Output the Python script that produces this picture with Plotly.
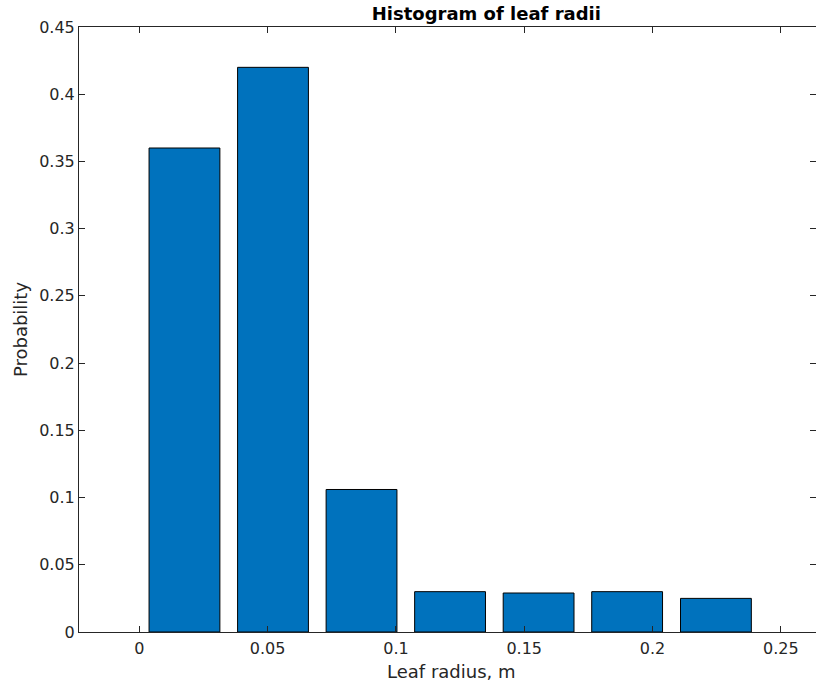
import plotly.graph_objects as go

bin_centers = [0.0176, 0.0521, 0.0866, 0.1211, 0.1556, 0.1901, 0.2247]
probabilities = [0.36, 0.42, 0.106, 0.030, 0.029, 0.030, 0.025]
bar_width = 0.0276
x_ticks = [0, 0.05, 0.1, 0.15, 0.2, 0.25]
x_ticklabels = ["0", "0.05", "0.1", "0.15", "0.2", "0.25"]
y_ticks = [0, 0.05, 0.1, 0.15, 0.2, 0.25, 0.3, 0.35, 0.4, 0.45]
y_ticklabels = ["0", "0.05", "0.1", "0.15", "0.2", "0.25", "0.3", "0.35", "0.4", "0.45"]

axc = "#262626"
font = "DejaVu Sans"
W, H = 816, 688
L, R, T, B = 79, 0, 27, 56
center_px = 451  # axes centre (box extends slightly past the right edge)

fig = go.Figure(go.Bar(
    x=bin_centers, y=probabilities, width=bar_width,
    marker=dict(color="#0072BD", line=dict(color="#000000", width=1)),
))

fig.update_layout(
    width=W, height=H,
    margin=dict(l=L, r=R, t=T, b=B),
    paper_bgcolor="white", plot_bgcolor="white",
    showlegend=False,
    font=dict(family=font, size=16, color=axc),
    title=dict(text="<b>Histogram of leaf radii</b>", x=center_px / W, xanchor="center",
               xref="paper", y=1 - 20 / H, yanchor="bottom",
               font=dict(family=font, size=18, color="#000000")),
    annotations=[dict(text="Leaf radius, m", xref="paper", yref="paper",
                      x=(center_px - L) / (W - L - R), y=-(684 - (H - B)) / (H - T - B),
                      xanchor="center", yanchor="bottom", showarrow=False,
                      font=dict(family=font, size=18, color=axc))],
)
fig.update_xaxes(
    range=[-0.0235, 0.2637], tickvals=x_ticks, ticktext=x_ticklabels,
    showgrid=False, zeroline=False, showline=True, linecolor=axc, linewidth=1,
    mirror="ticks", ticks="inside", ticklen=6, tickcolor=axc,
    tickfont=dict(family=font, size=16, color=axc), ticklabelstandoff=2,
)
fig.update_yaxes(
    range=[0, 0.45], tickvals=y_ticks, ticktext=y_ticklabels,
    showgrid=False, zeroline=False, showline=True, linecolor=axc, linewidth=1,
    mirror="ticks", ticks="inside", ticklen=6, tickcolor=axc,
    tickfont=dict(family=font, size=16, color=axc),
    title=dict(text="Probability", font=dict(size=18, color=axc), standoff=6),
)
fig.write_html("out.html")
